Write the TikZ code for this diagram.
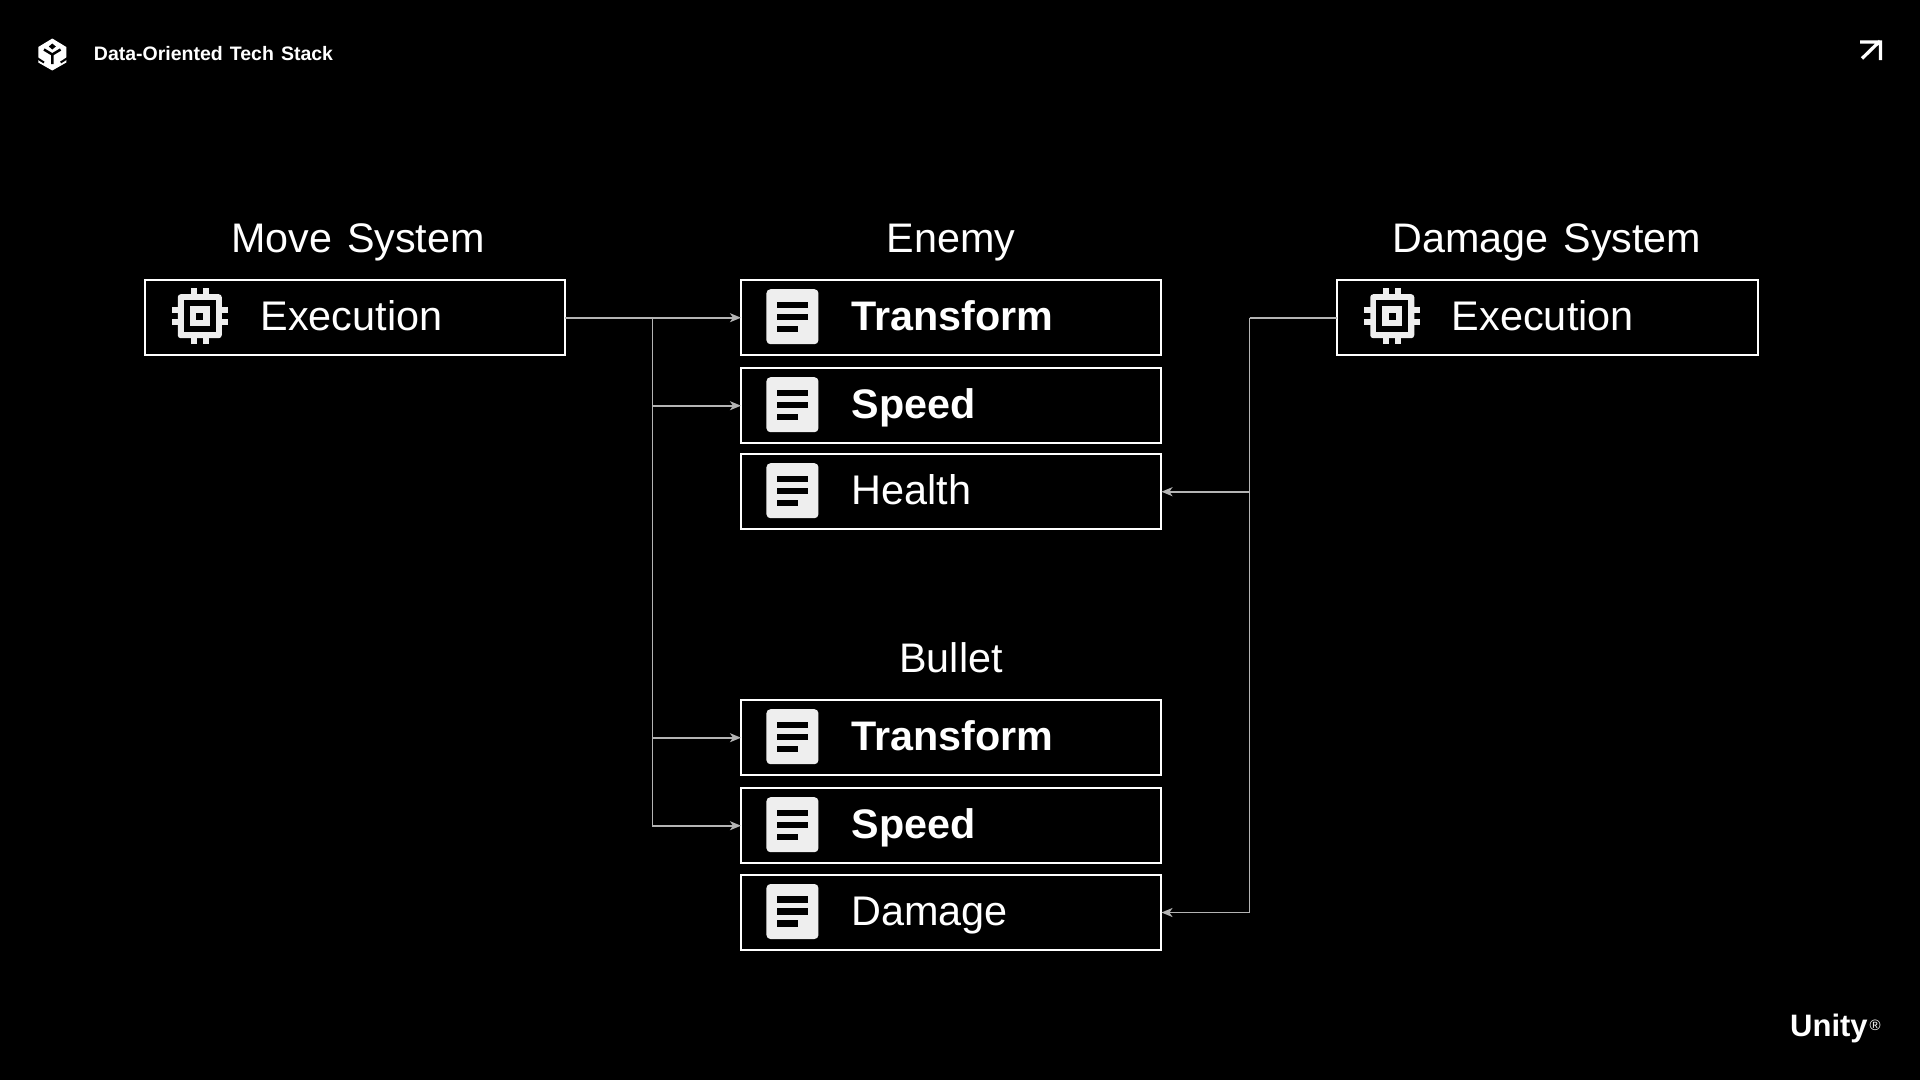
\documentclass[tikz,border=0pt]{standalone}
\usepackage{fontspec}
\setmainfont[WordSpace=1.3]{Liberation Sans}
\usetikzlibrary{arrows.meta}
\definecolor{wiregray}{HTML}{B4B4B4}
\definecolor{iconwhite}{HTML}{EEEEEE}
\tikzset{
  slab/.style={draw=white,line width=2pt,minimum width=420.5pt,minimum height=75.5pt,inner sep=0pt,outer sep=0pt},
  wire/.style={draw=wiregray,line width=1.6pt,-{Stealth[length=11pt,width=9pt,inset=3pt]}},
  bus/.style={draw=wiregray,line width=1.6pt},
  heading/.style={text=white,anchor=base,inner sep=0pt,font=\fontsize{41.3}{48}\selectfont},
  itemtext/.style={text=white,anchor=west,text height=34pt,text depth=8pt,inner sep=0pt,font=\fontsize{41.4}{48}\selectfont},
  itembold/.style={itemtext,font=\fontsize{41.3}{48}\selectfont\bfseries},
  docicon/.pic={
    \fill[iconwhite,rounded corners=4pt] (-26,-27.5) rectangle (26,27.5);
    \fill[black] (-15.5,-15.2) rectangle (15.5,-8.8);
    \fill[black] (-15.5,-3.2) rectangle (15.5,3.2);
    \fill[black] (-15.5,8.8) rectangle (6,15.2);
  },
  chipicon/.pic={
    \fill[iconwhite,rounded corners=3pt] (-22,-22) rectangle (22,22);
    \fill[black] (-16,-16) rectangle (16,16);
    \fill[iconwhite] (-10.2,-10.2) rectangle (10.2,10.2);
    \fill[black] (-3.5,-3.5) rectangle (3.5,3.5);
    \fill[iconwhite] (-8.8,-28) rectangle (-3,-21);
    \fill[iconwhite] (3,-28) rectangle (8.8,-21);
    \fill[iconwhite] (-8.8,21) rectangle (-3,28);
    \fill[iconwhite] (3,21) rectangle (8.8,28);
    \fill[iconwhite] (-28,-8.8) rectangle (-21,-3);
    \fill[iconwhite] (-28,3) rectangle (-21,8.8);
    \fill[iconwhite] (21,-8.8) rectangle (28,-3);
    \fill[iconwhite] (21,3) rectangle (28,8.8);
  }
}
\begin{document}
\begin{tikzpicture}[x=1pt,y=-1pt]
  \useasboundingbox (0,0) rectangle (1920,1080);
  \fill[black] (0,0) rectangle (1920,1080);

  \fill[white] (52.3,38.5) -- (66.3,47) -- (66.3,62.5) -- (52.3,70.5) -- (38.3,62.5) -- (38.3,47) -- cycle;
  \fill[black] (52.3,43.5) -- (48.8,46.5) -- (52.3,49.5) -- (55.8,46.5) -- cycle;
  \draw[black,line width=2.5pt] (44,49.5) -- (52.3,54.5) -- (60.6,49.5) (52.3,54.5) -- (52.3,64);
  \draw[black,line width=2pt] (37,58) -- (44,62.5) (67.6,58) -- (60.6,62.5);
  \node[text=white,font=\fontsize{19.5}{22}\selectfont\bfseries] (deck) at (213.5,54) {Data-Oriented Tech Stack};
  \draw[white,line width=3.3pt] (1860,42) -- (1880.5,42) -- (1880.5,60) (1862,58.5) -- (1880,41);
  \node[text=white,anchor=base west,inner sep=0pt,font=\fontsize{31}{36}\selectfont\bfseries] (brand) at (1790,1036) {Unity\hspace{2pt}\raisebox{6pt}{\fontsize{15}{16}\selectfont\mdseries ®}};

  \node[heading] (movetitle) at (358,252.5) {Move System};
  \node[heading] (enemytitle) at (951,252.5) {Enemy};
  \node[heading] (damagetitle) at (1547,252.5) {Damage System};
  \node[heading] (bullettitle) at (951,672.5) {Bullet};

  \node[slab] (movebox) at (355,317.7) {};
  \node[slab] (etransform) at (951.2,317.7) {};
  \node[slab] (espeed) at (951.2,405.7) {};
  \node[slab] (ehealth) at (951.2,491.7) {};
  \node[slab] (btransform) at (951.2,737.7) {};
  \node[slab] (bspeed) at (951.2,825.7) {};
  \node[slab] (bdamage) at (951.2,912.5) {};
  \node[slab] (damagebox) at (1547.5,317.7) {};

  \pic at ([xshift=55pt,yshift=1.5pt]movebox.west) {chipicon};
  \pic at ([xshift=55pt,yshift=1.5pt]damagebox.west) {chipicon};
  \pic at ([xshift=51.5pt,yshift=1pt]etransform.west) {docicon};
  \pic at ([xshift=51.5pt,yshift=1pt]espeed.west) {docicon};
  \pic at ([xshift=51.5pt,yshift=1pt]ehealth.west) {docicon};
  \pic at ([xshift=51.5pt,yshift=1pt]btransform.west) {docicon};
  \pic at ([xshift=51.5pt,yshift=1pt]bspeed.west) {docicon};
  \pic at ([xshift=51.5pt,yshift=1pt]bdamage.west) {docicon};

  \node[itemtext] (moveexec) at ([xshift=115.5pt]movebox.west) {Execution};
  \node[itemtext] (damageexec) at ([xshift=114.5pt]damagebox.west) {Execution};
  \node[itembold] (t1) at ([xshift=110.3pt]etransform.west) {Transform};
  \node[itembold] (s1) at ([xshift=110.3pt]espeed.west) {Speed};
  \node[itemtext] (h1) at ([xshift=110.3pt]ehealth.west) {Health};
  \node[itembold] (t2) at ([xshift=110.3pt]btransform.west) {Transform};
  \node[itembold] (s2) at ([xshift=110.3pt]bspeed.west) {Speed};
  \node[itemtext] (d2) at ([xshift=110.3pt]bdamage.west) {Damage};

  \coordinate (leftbus) at (652.6,317.7);
  \coordinate (rightbus) at (1249.6,317.7);

  \draw[wire] (movebox.east) -- (etransform.west);
  \draw[wire] (leftbus) |- (espeed.west);
  \draw[wire] (leftbus) |- (btransform.west);
  \draw[wire] (leftbus) |- (bspeed.west);
  \draw[bus] (damagebox.west) -- (rightbus);
  \draw[wire] (rightbus) |- (ehealth.east);
  \draw[wire] (rightbus) |- (bdamage.east);
\end{tikzpicture}
\end{document}
